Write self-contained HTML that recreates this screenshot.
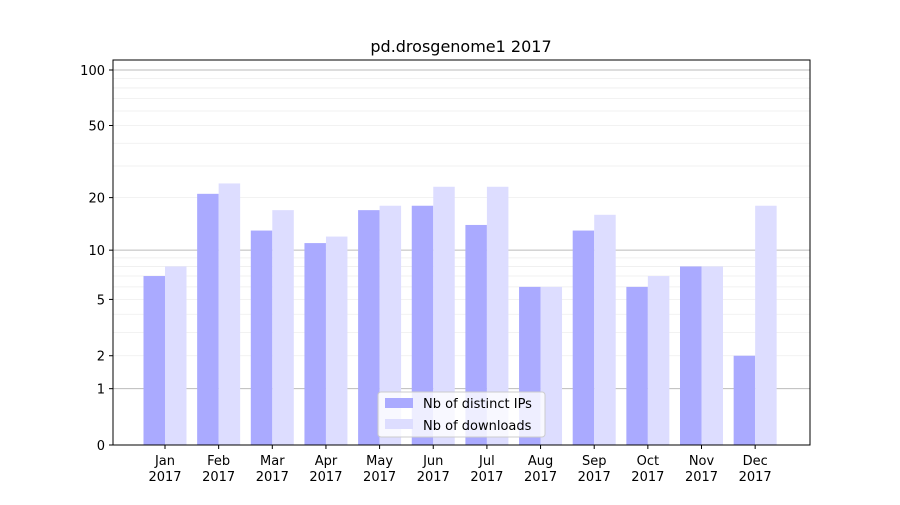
<!DOCTYPE html>
<html><head><meta charset="utf-8"><style>
body{margin:0;background:#fff;font-family:"Liberation Sans","DejaVu Sans",sans-serif}
</style></head><body>
<svg id="chart" width="900" height="500" xmlns="http://www.w3.org/2000/svg" font-family="DejaVu Sans, Liberation Sans, sans-serif">
<rect width="900" height="500" fill="#fff"/>
<text x="461" y="52" text-anchor="middle" font-size="16">pd.drosgenome1 2017</text>
<g id="grid"></g><g id="bars"></g><g id="axes"></g>
<g>
<rect x="378" y="392" width="167" height="45" fill="#fff" fill-opacity="0.8" stroke="#ccc" rx="3"/>
<rect x="385" y="398" width="28" height="10" fill="#aaaaff"/>
<text x="423" y="408" font-size="13">Nb of distinct IPs</text>
<rect x="385" y="419" width="28" height="10" fill="#ddddff"/>
<text x="423" y="430" font-size="13">Nb of downloads</text>
</g>
</svg>
<script>
const months=["Jan","Feb","Mar","Apr","May","Jun","Jul","Aug","Sep","Oct","Nov","Dec"];
const ips=[7,21,13,11,17,18,14,6,13,6,8,2];
const downloads=[8,24,17,12,18,23,23,6,16,7,8,18];
const yTicks=[0,1,2,5,10,20,50,100];
const NS="http://www.w3.org/2000/svg";
const L=113,R=810,T=60,B=445;
function y(v){return B-Math.log10(1+v)*187.1;}
function xc(i){return 165+i*53.65;}
function mk(p,tag,a){const e=document.createElementNS(NS,tag);for(const k in a)e.setAttribute(k,a[k]);p.appendChild(e);return e;}
const grid=document.getElementById('grid'),bars=document.getElementById('bars'),axes=document.getElementById('axes');
const minor=[];for(let d=1;d<=100;d*=10)for(let m=2;m<=9;m++)if(m*d<=113)minor.push(m*d);
minor.forEach(v=>{const l=mk(grid,'line',{x1:L,x2:R,y1:y(v),y2:y(v),stroke:'#eee','stroke-width':0.8});

});
[1,10,100].forEach(v=>{const l=mk(grid,'line',{x1:L,x2:R,y1:y(v),y2:y(v),stroke:'#bbb','stroke-width':1});

});
months.forEach((m,i)=>{
const b1=mk(bars,'rect',{x:xc(i)-21.5,y:y(ips[i]),width:21.5,height:B-y(ips[i]),fill:'#aaaaff'});


const b2=mk(bars,'rect',{x:xc(i),y:y(downloads[i]),width:21.5,height:B-y(downloads[i]),fill:'#ddddff'});


mk(axes,'line',{x1:xc(i),x2:xc(i),y1:B,y2:B+4,stroke:'#000'});
const t=mk(axes,'text',{x:xc(i),y:B+20,'text-anchor':'middle','font-size':13});


t.textContent=m;
const t2=mk(axes,'text',{x:xc(i),y:B+36,'text-anchor':'middle','font-size':13});


t2.textContent='2017';
});
yTicks.forEach(v=>{mk(axes,'line',{x1:L-4,x2:L,y1:y(v),y2:y(v),stroke:'#000'});
const t=mk(axes,'text',{x:L-8,y:y(v)+5,'text-anchor':'end','font-size':13});


t.textContent=v;});
const f=mk(axes,'rect',{x:L,y:T,width:R-L,height:B-T,fill:'none',stroke:'#000'});


</script>
</body></html>
